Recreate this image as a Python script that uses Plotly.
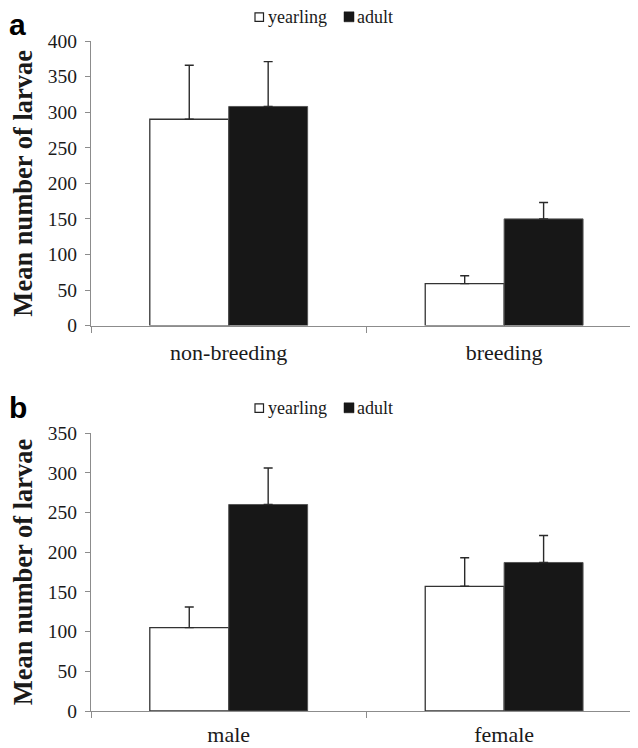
import plotly.graph_objects as go

# ---- data ----
cats_a = ["non-breeding", "breeding"]
yearling_a = [290, 59]
yearling_a_err = [76, 11]
adult_a = [308, 150]
adult_a_err = [63, 23]

cats_b = ["male", "female"]
yearling_b = [105, 157]
yearling_b_err = [26, 36]
adult_b = [260, 187]
adult_b_err = [46, 34]

series_names = ["yearling", "adult"]
yticks_a = [0, 50, 100, 150, 200, 250, 300, 350, 400]
yticks_b = [0, 50, 100, 150, 200, 250, 300, 350]

# the page body has an 8px margin; lay the figure out in screen pixels
OFF = 8
W, H = 638 - OFF, 748 - OFF
ML, MR = 91 - OFF, 0
MT = 40.7 - OFF
MB = H - (710.7 - OFF)
PW, PH = W - ML - MR, H - MT - MB

def px_x(x):
    return (x - OFF - ML) / PW

def px_y(y):
    return (H - MB - (y - OFF)) / PH

SERIF = "'Times New Roman', 'Liberation Serif', Times, serif"
AXC = "#8c8c8c"
TXT = "#1a1a1a"
WHITE_LINE = "#333333"
BLACK_FILL = "#171717"

fig = go.Figure()

def add_panel(cats, yv, ye, av, ae, xa, ya):
    fig.add_trace(go.Bar(
        x=cats, y=yv, name=series_names[0], xaxis=xa, yaxis=ya,
        marker=dict(color="white", line=dict(color=WHITE_LINE, width=1.3)),
        error_y=dict(type="data", array=ye, arrayminus=[0] * len(ye), symmetric=False,
                     color="#2a2a2a", thickness=1.4, width=4.5),
        showlegend=False))
    fig.add_trace(go.Bar(
        x=cats, y=av, name=series_names[1], xaxis=xa, yaxis=ya,
        marker=dict(color=BLACK_FILL, line=dict(color="#555555", width=1)),
        error_y=dict(type="data", array=ae, arrayminus=[0] * len(ae), symmetric=False,
                     color="#2a2a2a", thickness=1.4, width=4.5),
        showlegend=False))

add_panel(cats_a, yearling_a, yearling_a_err, adult_a, adult_a_err, "x", "y")
add_panel(cats_b, yearling_b, yearling_b_err, adult_b, adult_b_err, "x2", "y2")

xcommon = dict(showline=True, linecolor=AXC, linewidth=1.2, ticks="outside",
               tickson="boundaries", ticklen=6, tickcolor=AXC, tickwidth=1.2,
               tickfont=dict(family=SERIF, size=22, color=TXT),
               showgrid=False, zeroline=False, range=[-0.5, 1.486], fixedrange=True,
               automargin=False)
ycommon = dict(showline=True, linecolor=AXC, linewidth=1.2, ticks="outside",
               ticklen=5, tickcolor=AXC, tickwidth=1.2, ticklabelstandoff=4,
               tickfont=dict(family=SERIF, size=19.5, color=TXT),
               showgrid=False, zeroline=False, fixedrange=True, automargin=False,
               title=dict(text="<b>Mean number of larvae</b>",
                          font=dict(family=SERIF, size=26.5, color=TXT), standoff=11))

pa_bot, pa_top = px_y(325.3), px_y(40.7)
pb_bot, pb_top = px_y(710.7), px_y(432.7)

fig.update_layout(
    width=W, height=H,
    margin=dict(l=ML, r=MR, t=MT, b=MB, autoexpand=False),
    paper_bgcolor="white", plot_bgcolor="white",
    font=dict(family=SERIF, color=TXT),
    barmode="group", bargap=0.427, bargroupgap=0,
    xaxis=dict(domain=[0, 1], anchor="y", ticklabelstandoff=7, **xcommon),
    yaxis=dict(domain=[pa_bot, pa_top], anchor="x", range=[0, 400],
               tickvals=yticks_a, **ycommon),
    xaxis2=dict(domain=[0, 1], anchor="y2", ticklabelstandoff=3, **xcommon),
    yaxis2=dict(domain=[pb_bot, pb_top], anchor="x2", range=[0, 350],
                tickvals=yticks_b, **ycommon),
)

annotations = []
shapes = []
for letter, ly, legy in [("a", 24, 17), ("b", 407, 408)]:
    annotations.append(dict(text="<b>" + letter + "</b>", x=px_x(7), y=px_y(ly),
                            xref="paper", yref="paper", xanchor="left", yanchor="middle",
                            showarrow=False,
                            font=dict(family="'Liberation Sans', Arial, sans-serif",
                                      size=30, color="black")))
    # legend keys
    shapes.append(dict(type="rect", xref="paper", yref="paper",
                       x0=px_x(255), x1=px_x(263.5), y0=px_y(legy + 4), y1=px_y(legy - 4.5),
                       line=dict(color="#222222", width=1.2), fillcolor="white"))
    shapes.append(dict(type="rect", xref="paper", yref="paper",
                       x0=px_x(344), x1=px_x(354), y0=px_y(legy + 4.5), y1=px_y(legy - 5.5),
                       line=dict(color=BLACK_FILL, width=0.5), fillcolor=BLACK_FILL))
    annotations.append(dict(text=series_names[0], x=px_x(265.5), y=px_y(legy),
                            xref="paper", yref="paper", xanchor="left", yanchor="middle",
                            showarrow=False, font=dict(family=SERIF, size=18, color=TXT)))
    annotations.append(dict(text=series_names[1], x=px_x(355), y=px_y(legy),
                            xref="paper", yref="paper", xanchor="left", yanchor="middle",
                            showarrow=False, font=dict(family=SERIF, size=18, color=TXT)))

fig.update_layout(annotations=annotations, shapes=shapes)

fig.write_html("out.html")
